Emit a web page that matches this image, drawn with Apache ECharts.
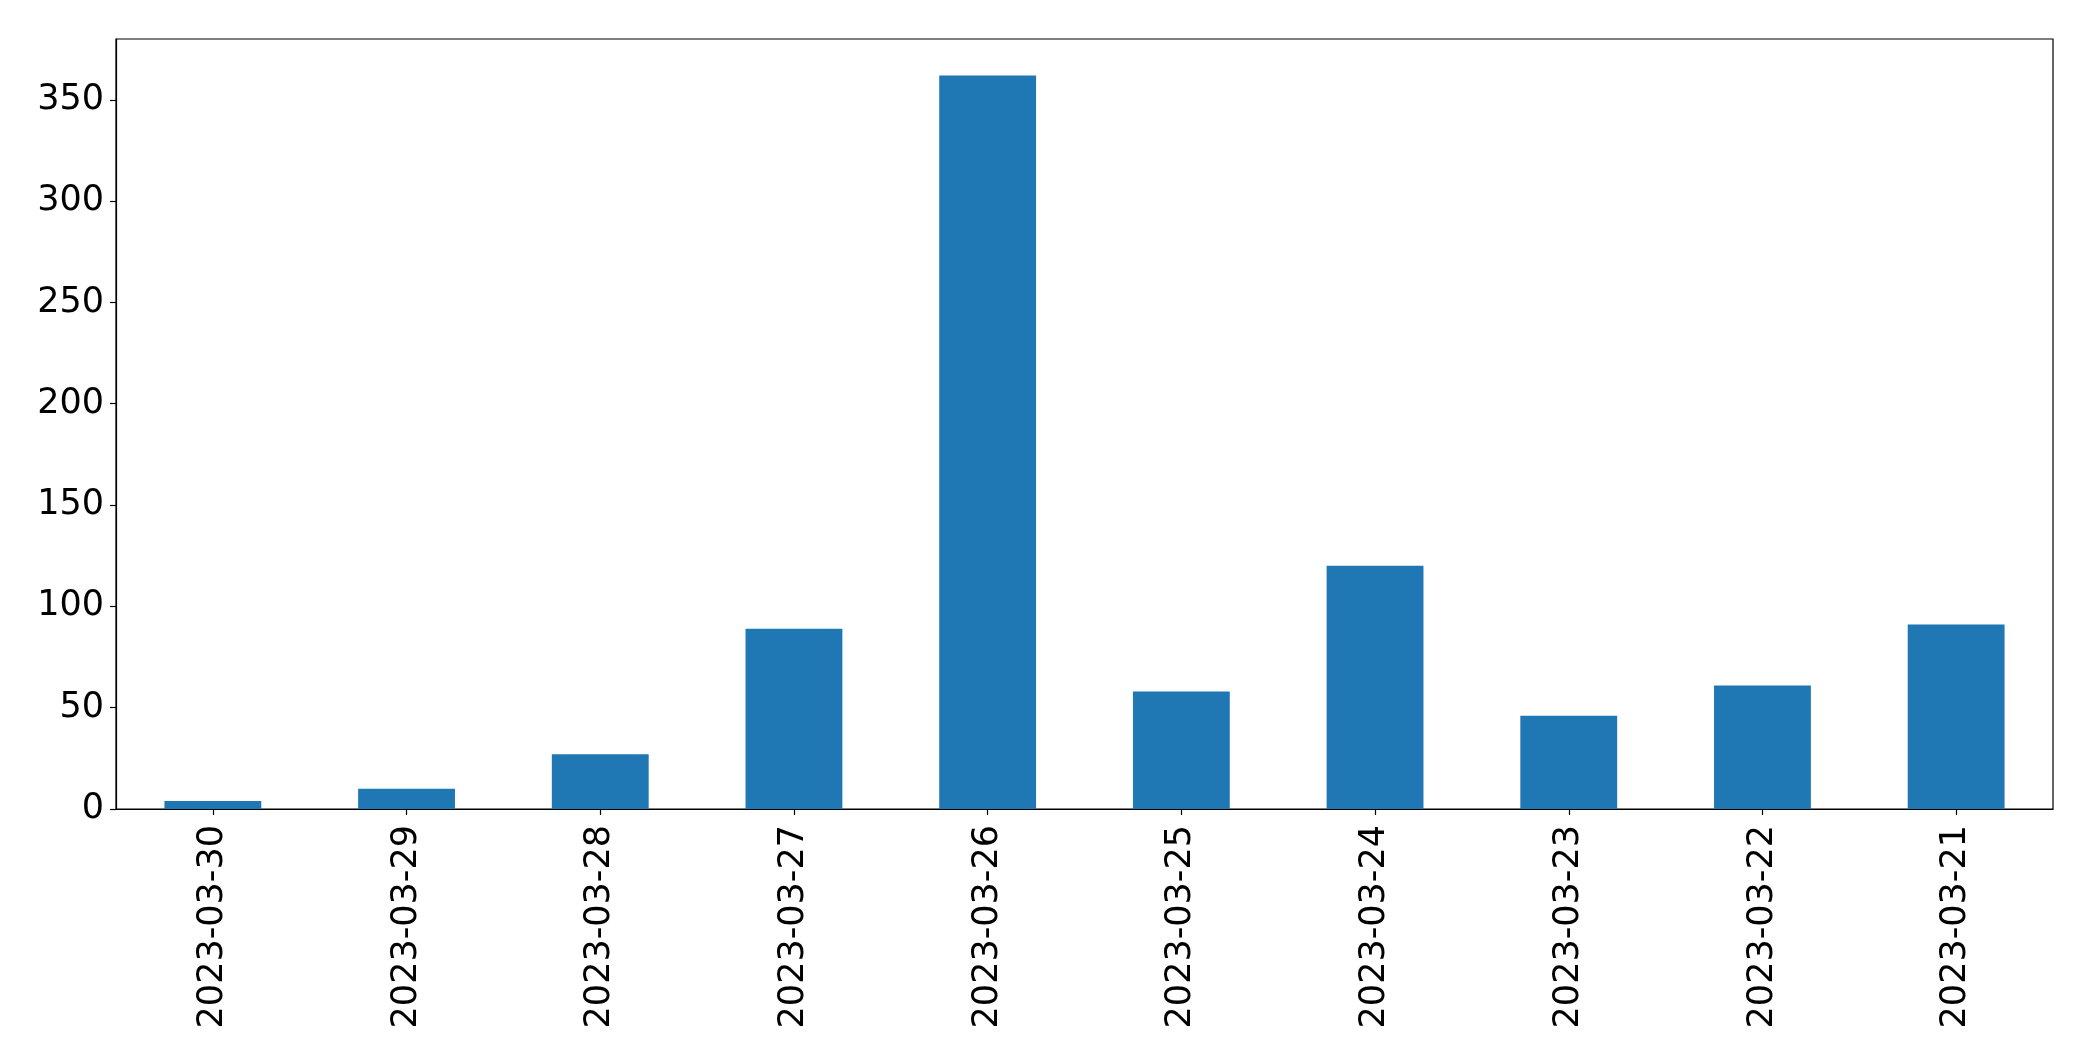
<!DOCTYPE html>
<html>
<head>
<meta charset="utf-8">
<script src="https://cdn.jsdelivr.net/npm/echarts@6/dist/echarts.min.js"></script>
<style>
html,body{margin:0;padding:0;background:#fff;}
#chart{width:2093px;height:1061px;}
</style>
</head>
<body>
<div id="chart"></div>
<script>
const categories = ['2023-03-30','2023-03-29','2023-03-28','2023-03-27','2023-03-26','2023-03-25','2023-03-24','2023-03-23','2023-03-22','2023-03-21'];
const values = [4, 10, 27, 89, 362, 58, 120, 46, 61, 91];
const yTicks = [0, 50, 100, 150, 200, 250, 300, 350];

const chart = echarts.init(document.getElementById('chart'));
const font = 'DejaVu Sans';
chart.setOption({
  animation: false,
  backgroundColor: '#ffffff',
  grid: {
    left: 116, top: 39, right: 40, bottom: 252,
    show: true, borderColor: '#000', borderWidth: 1.2, backgroundColor: 'transparent'
  },
  xAxis: {
    type: 'category',
    data: categories,
    axisLine: { show: true, lineStyle: { color: '#000', width: 1.2 } },
    axisTick: { show: true, alignWithLabel: true, length: 6, lineStyle: { color: '#000', width: 1.2 } },
    axisLabel: { rotate: 90, margin: 16, color: '#000', fontSize: 35, fontFamily: font, interval: 0 },
    splitLine: { show: false }
  },
  yAxis: {
    type: 'value',
    min: 0, max: 380, interval: 50,
    axisLine: { show: true, lineStyle: { color: '#000', width: 1.2 } },
    axisTick: { show: true, length: 6, customValues: yTicks, lineStyle: { color: '#000', width: 1.2 } },
    axisLabel: { margin: 12, color: '#000', fontSize: 35, fontFamily: font, customValues: yTicks },
    splitLine: { show: false }
  },
  series: [{
    type: 'bar',
    data: values,
    barWidth: '50%',
    itemStyle: { color: '#1f77b4' }
  }]
});
</script>
</body>
</html>
